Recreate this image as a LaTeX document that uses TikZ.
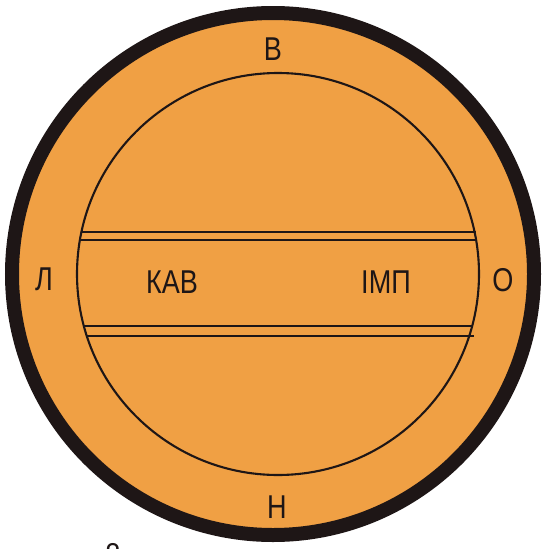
\documentclass[tikz,border=0pt]{standalone}
\usepackage{fontspec}
\setmainfont{Liberation Sans}
\definecolor{paper}{HTML}{F0A044}
\definecolor{ink}{HTML}{1E1616}
\tikzset{
  lbl/.style={inner sep=0pt, font=\fontsize{33}{33}\selectfont, text=ink, xscale=0.82},
  chord/.style={draw=ink, line width=2.6pt},
}
\begin{document}
\begin{tikzpicture}[x=1pt,y=-1pt]
\useasboundingbox (0,0) rectangle (541,549);
\clip (0,0) rectangle (541,549);
% outer disk
\fill[paper] (273,274) circle[radius=262pt];
\draw[ink, line width=14pt] (273,274) circle[radius=261pt];
% inner circle
\coordinate (c) at (278,274);
\draw[ink, line width=2.1pt] (c) circle[radius=201pt];
% chords
\coordinate (a1) at (81,232); \coordinate (b1) at (476,232);
\coordinate (a2) at (80,240); \coordinate (b2) at (476,240);
\coordinate (a3) at (84,326); \coordinate (b3) at (473,326);
\coordinate (a4) at (86,336); \coordinate (b4) at (474,336);
\draw[chord] (a1) -- (b1);
\draw[chord] (a2) -- (b2);
\draw[chord] (a3) -- (b3);
\draw[chord] (a4) -- (b4);
% labels
\node[lbl] (top) at (273,49) {В};
\node[lbl] (bottom) at (277,507) {Н};
\node[lbl] (left) at (44,279) {Л};
\node[lbl] (right) at (503,280) {О};
\node[lbl] (kav) at (172,282) {КАВ};
\node[lbl] (imp) at (386,282) {ІМП};
\node[lbl, anchor=base] (fig) at (113,566) {8};
\end{tikzpicture}
\end{document}
